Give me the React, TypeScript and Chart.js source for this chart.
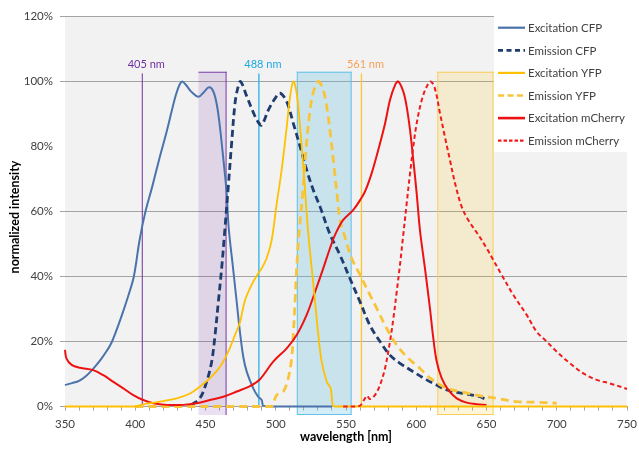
import { useEffect, useRef } from "react";
import { Chart, registerables } from "chart.js";

Chart.register(...registerables);

// ---- spectra (wavelength in nm, normalized intensity in %) ----
const excitationCfpNm = [350, 355, 360, 365, 370, 375, 380, 383.5, 390, 395, 399, 403, 407, 412, 417, 422, 426, 429, 431.5, 433.5, 436, 440, 445, 449, 452.5, 455.5, 458, 460, 462.5, 465, 466.5, 469.5, 472, 474.5, 477, 479.5, 484, 487.5, 490, 491, 495, 540];
const excitationCfpPct = [6.6, 7.2, 7.9, 9.4, 11.6, 14.2, 17.3, 20, 27.5, 34, 40, 51, 59.5, 67.5, 76, 84, 91, 96, 99, 100, 99, 96.8, 95.3, 96.8, 98.2, 97, 93, 87, 77, 66, 55, 43, 33, 23, 15, 10.5, 5.6, 3, 2, 0.3, 0, 0];

const emissionCfpNm = [440, 446, 450.8, 454.4, 456.8, 459.1, 461.5, 463.5, 466.2, 468.6, 471, 473, 475, 479.3, 484, 487.5, 490, 494.7, 499.5, 503, 507.8, 512.5, 517.3, 522, 526.7, 531.5, 538.6, 545.7, 552.8, 560, 567, 574.2, 581.3, 588.4, 597.9, 607.4, 614.5, 621.7, 633.5, 645.4, 650];
const emissionCfpPct = [0.5, 2.5, 7.6, 13.8, 22, 32, 42.5, 53, 67.6, 81, 93.3, 98, 100, 95.5, 90.5, 87.5, 86.6, 91.2, 94.8, 96.4, 93.8, 87.1, 80, 72.8, 66.6, 61.5, 53, 46.6, 39.4, 32.2, 25, 20, 15.8, 13.3, 10.7, 8.2, 6.6, 5.1, 4, 3, 2];

const excitationYfpNm = [350, 400, 405, 410, 417.6, 429.5, 439, 446, 453.2, 460.3, 466.2, 471, 474.6, 478, 482.9, 487.6, 490, 493.5, 497, 500.7, 504.2, 507.8, 510.1, 512.5, 514.9, 517.3, 519.6, 521.5, 523.2, 525.6, 528, 530.3, 532.7, 536.3, 539.1, 540.5, 542, 750];
const excitationYfpPct = [0, 0, 0.6, 1, 1.5, 2.5, 4, 6.1, 8.7, 12.2, 16.9, 22, 26, 32.5, 37.5, 41, 42.5, 45.6, 51, 62.5, 72.8, 86, 95, 100, 96.4, 86, 73.8, 62.5, 53, 42.5, 32.2, 22, 13.8, 7.6, 5.6, 0.5, 0, 0];

const emissionYfpNm = [400, 497, 498.2, 500.7, 505.4, 508.9, 511.3, 512.5, 513.7, 514.9, 516.5, 519.2, 521.5, 524.4, 527.2, 530.3, 533.8, 536.7, 539.1, 541.5, 543.8, 545.7, 549, 554, 560, 565.9, 571.9, 579, 586.1, 593.2, 602.7, 610, 621.7, 633.5, 645.4, 657.3, 671.5, 688, 700];
const emissionYfpPct = [0, 0, 1, 3.5, 4.6, 8.7, 14.8, 22, 32, 42.5, 53, 65.6, 79, 91.2, 97.4, 100, 97.4, 91.2, 83, 73.8, 64.6, 57.4, 52.5, 45.6, 40.5, 35.3, 30.2, 24, 18.9, 15.3, 11.7, 8.7, 5.6, 4.4, 3.3, 2.5, 1.5, 1.3, 1];

const excitationCherryNm = [350, 351, 354.7, 360.7, 370, 377, 384.4, 391.5, 398.6, 405.7, 412.8, 422.4, 434.2, 443.7, 453.2, 462.7, 472.2, 481.7, 488.8, 498.2, 507.8, 514.9, 522, 528, 533.8, 538.6, 542.2, 548, 555.2, 560, 563.5, 568.3, 573, 577.8, 581.3, 584.9, 587.2, 590.8, 593.2, 595.6, 597.9, 600.3, 602.7, 606.2, 609.8, 612, 614.5, 618.1, 622.8, 628.8, 635.9, 643, 650];
const excitationCherryPct = [17.4, 14.8, 12.8, 11.9, 11.2, 9.7, 7.6, 5.6, 3.5, 2, 1, 0.5, 0.5, 1, 2, 3, 4.6, 6.3, 8.4, 13.8, 17.9, 22, 28.2, 35.3, 42.5, 48.7, 52.8, 57.4, 60.5, 63.5, 66.1, 71.8, 79, 87.1, 94.3, 98.9, 100, 96.9, 92.2, 85, 75.8, 65.6, 54, 42.5, 30, 21.5, 14, 8.7, 5.1, 2.5, 1.2, 0.7, 0.5];

const emissionCherryNm = [548, 555, 560, 563.5, 565, 567, 570.6, 574.2, 577.8, 581.3, 583.7, 586.1, 588.4, 590.8, 593.2, 595.6, 597.9, 600.3, 603.9, 607.4, 610.3, 613.3, 616.9, 620.4, 624, 627.6, 632.3, 637, 644.2, 650.1, 654.8, 660.8, 669.1, 678.6, 685.7, 692.8, 699.9, 709.4, 718.9, 728.4, 737.9, 747.4, 750];
const emissionCherryPct = [0, 0, 0.3, 2.5, 3.3, 2.3, 3.5, 6.6, 11.8, 20, 27, 35.3, 43.5, 53, 62.5, 71.8, 80, 87.1, 94.3, 98.4, 100, 97.8, 90.2, 83, 75.8, 68.7, 61.5, 57.4, 52.8, 48.7, 45.1, 40.5, 34.3, 28.2, 23, 20, 16.9, 13.3, 10.2, 8.2, 7.1, 5.8, 5.4];

// ---- laser lines and filter bands ----
const laserNm = [405, 488, 561];
const laserLabels = ["405 nm", "488 nm", "561 nm"];
const laserTopPct = 102.5;
const filterBandsNm: [number, number][] = [[445, 465], [515, 554], [615, 655]];
const filterTopPct = 103;

// ---- axes ----
const xMin = 350;
const xMax = 750;
const xMajorStep = 50;
const xMinorStep = 10;
const yMin = 0;
const yMax = 120;
const yStep = 20;
const xTitle = "wavelength [nm]";
const yTitle = "normalized intensity";

const FONT = "Lato, 'Open Sans', sans-serif";
const GRID = "#a3a3a3";

const laserStyles = [
  { line: "#7030a0", label: "#7030a0", width: 1 },
  { line: "#29b1e6", label: "#20a8e0", width: 1.3 },
  { line: "#ffc72c", label: "#f4a257", width: 1.3 },
];

const bandStyles = [
  { fill: "rgba(112,48,160,0.15)", stroke: "#7c3fa8", sides: ["top", "right"] },
  { fill: "rgba(91,190,225,0.27)", stroke: "#62c2ea", sides: ["top", "left", "right", "bottom"] },
  { fill: "rgba(255,192,0,0.15)", stroke: "#f9cf5c", sides: ["top", "left", "right", "bottom"] },
];

const pairs = (xs: number[], ys: number[]) => xs.map((x, i) => ({ x, y: ys[i] }));

const decorPlugin = {
  id: "spectraDecor",
  beforeDraw(chart: any) {
    const { ctx, chartArea: a } = chart;
    ctx.save();
    ctx.fillStyle = "#f2f2f2";
    ctx.fillRect(a.left, a.top, a.right - a.left, a.bottom - a.top);
    ctx.restore();
  },
  beforeDatasetsDraw(chart: any) {
    const { ctx, chartArea: a, scales } = chart;
    const xs = scales.x;
    const ys = scales.y;
    ctx.save();
    // filter bands
    filterBandsNm.forEach(([lo, hi], i) => {
      const st = bandStyles[i];
      const l = xs.getPixelForValue(lo);
      const r = xs.getPixelForValue(hi);
      const t = ys.getPixelForValue(filterTopPct);
      const b = a.bottom + 8.5;
      ctx.fillStyle = st.fill;
      ctx.fillRect(l, t, r - l, b - t);
      ctx.strokeStyle = st.stroke;
      ctx.lineWidth = 1;
      ctx.beginPath();
      if (st.sides.includes("top")) { ctx.moveTo(l, t + 0.5); ctx.lineTo(r, t + 0.5); }
      if (st.sides.includes("left")) { ctx.moveTo(l + 0.5, t); ctx.lineTo(l + 0.5, b); }
      if (st.sides.includes("right")) { ctx.moveTo(r - 0.5, t); ctx.lineTo(r - 0.5, b); }
      if (st.sides.includes("bottom")) { ctx.moveTo(l, b - 0.5); ctx.lineTo(r, b - 0.5); }
      ctx.stroke();
    });
    // laser lines with labels
    laserNm.forEach((nm, i) => {
      const st = laserStyles[i];
      const x = xs.getPixelForValue(nm);
      const t = ys.getPixelForValue(laserTopPct);
      ctx.strokeStyle = st.line;
      ctx.lineWidth = st.width;
      ctx.beginPath();
      ctx.moveTo(x, t);
      ctx.lineTo(x, a.bottom);
      ctx.stroke();
      ctx.fillStyle = st.label;
      ctx.font = `11px ${FONT}`;
      ctx.textAlign = "center";
      ctx.textBaseline = "middle";
      ctx.fillText(laserLabels[i], x + 4, t - 9);
    });
    ctx.restore();
  },
  afterDraw(chart: any) {
    const { ctx, chartArea: a } = chart;
    ctx.save();
    // legend panel
    const boxLeft = 494;
    const boxBottom = 152;
    ctx.fillStyle = "#ffffff";
    ctx.fillRect(boxLeft, 0, chart.width - boxLeft, boxBottom);
    const rowTop = 27.7;
    const rowGap = 22.6;
    chart.data.datasets.forEach((ds: any, i: number) => {
      const y = rowTop + i * rowGap;
      ctx.strokeStyle = ds.borderColor;
      ctx.lineWidth = ds.legendWidth;
      ctx.setLineDash(ds.legendDash || []);
      ctx.beginPath();
      ctx.moveTo(498, y);
      ctx.lineTo(525, y);
      ctx.stroke();
      ctx.setLineDash([]);
      ctx.fillStyle = "#404040";
      ctx.font = `11.5px ${FONT}`;
      ctx.textAlign = "left";
      ctx.textBaseline = "middle";
      ctx.fillText(ds.label, 528, y + 0.5);
    });
    // axis titles
    ctx.fillStyle = "#000000";
    ctx.font = `bold 12.5px ${FONT}`;
    ctx.textAlign = "center";
    ctx.textBaseline = "middle";
    ctx.fillText(xTitle, (a.left + a.right) / 2, 437);
    ctx.translate(15, 217);
    ctx.rotate(-Math.PI / 2);
    ctx.fillText(yTitle, 0, 0);
    ctx.restore();
  },
};

export default function App() {
  const ref = useRef<HTMLCanvasElement | null>(null);

  useEffect(() => {
    if (!ref.current) return;
    const line = (label: string, xs: number[], ys: number[], color: string, width: number, dash: number[], order: number, legendWidth: number, legendDash: number[]) => ({
      label,
      data: pairs(xs, ys),
      borderColor: color,
      backgroundColor: color,
      borderWidth: width,
      borderDash: dash,
      pointRadius: 0,
      fill: false,
      tension: 0.35,
      order,
      clip: 6,
      legendWidth,
      legendDash,
    });

    const chart = new Chart(ref.current, {
      type: "line",
      data: {
        datasets: [
          line("Excitation CFP", excitationCfpNm, excitationCfpPct, "#4a73ac", 2, [], 5, 2.2, []),
          line("Emission CFP", emissionCfpNm, emissionCfpPct, "#1f3c6e", 2.8, [7, 4], 4, 2.8, [5, 3.5]),
          line("Excitation YFP", excitationYfpNm, excitationYfpPct, "#ffc000", 1.8, [], 1, 2.2, []),
          line("Emission YFP", emissionYfpNm, emissionYfpPct, "#f8c53a", 2.8, [8, 5], 3, 2.6, [6, 3.5]),
          line("Excitation mCherry", excitationCherryNm, excitationCherryPct, "#ee1111", 2, [], 2, 2.6, []),
          line("Emission mCherry", emissionCherryNm, emissionCherryPct, "#f01c1c", 2, [4.5, 3], 0, 2.2, [3.5, 2]),
        ] as any,
      },
      options: {
        responsive: false,
        animation: false,
        devicePixelRatio: 1,
        layout: { padding: { left: 0, top: 16.5, right: 12, bottom: 0 } },
        plugins: { legend: { display: false }, tooltip: { enabled: false } },
        scales: {
          x: {
            type: "linear",
            min: xMin,
            max: xMax,
            afterFit: (s: any) => { s.height = 42.5; s.paddingLeft = 0; s.paddingRight = 0; },
            ticks: {
              stepSize: xMinorStep,
              autoSkip: false,
              maxRotation: 0,
              padding: 7,
              color: "#404040",
              font: { family: FONT, size: 11.5 },
              callback: (v: any) => (Number(v) % xMajorStep === 0 ? String(v) : ""),
            },
            grid: { drawOnChartArea: false, drawTicks: true, tickLength: 4, color: GRID },
            border: { display: true, color: GRID },
          },
          y: {
            type: "linear",
            min: yMin,
            max: yMax,
            afterFit: (s: any) => { s.width = 65; s.paddingTop = 0; s.paddingBottom = 0; },
            ticks: {
              stepSize: yStep,
              padding: 7,
              color: "#404040",
              font: { family: FONT, size: 11.5 },
              callback: (v: any) => `${v}%`,
            },
            grid: {
              drawTicks: true,
              tickLength: 5,
              color: (c: any) => (c.tick && c.tick.value === 80 ? "rgba(0,0,0,0)" : GRID),
            },
            border: { display: false },
          },
        },
      },
      plugins: [decorPlugin],
    });
    return () => chart.destroy();
  }, []);

  return (
    <div style={{ position: "fixed", left: 0, top: 0, width: 639, height: 449, background: "#ffffff" }}>
      <canvas ref={ref} width={639} height={449} style={{ display: "block" }} />
    </div>
  );
}
